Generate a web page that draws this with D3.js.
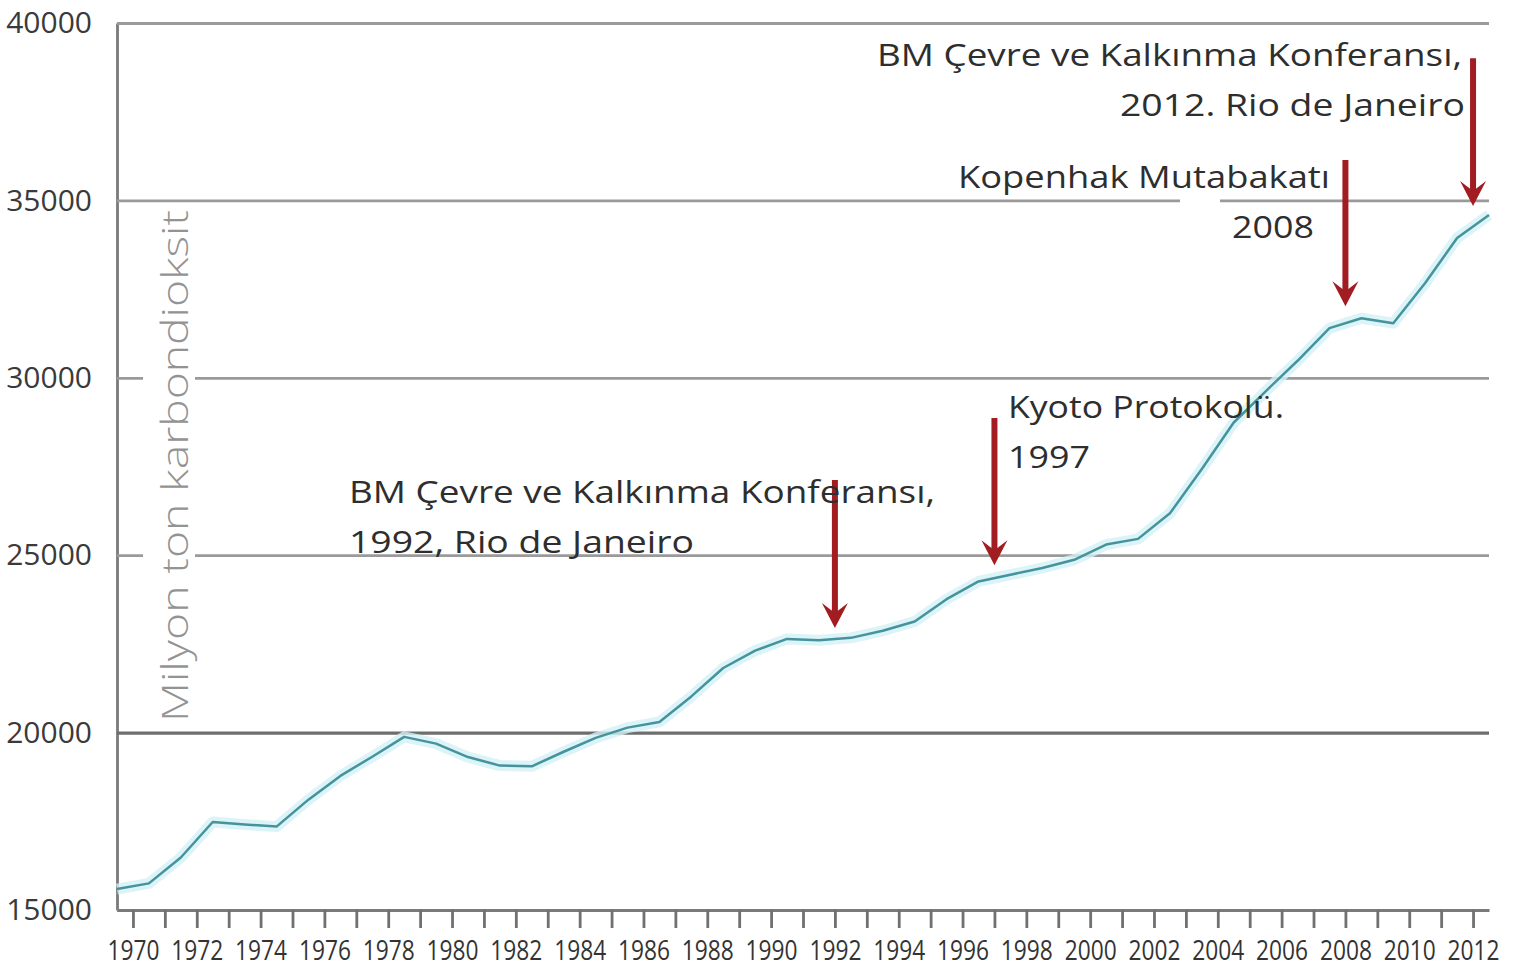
<!DOCTYPE html>
<html>
<head>
<meta charset="utf-8">
<script src="https://cdn.jsdelivr.net/npm/d3@7"></script>
<style>
  html, body { margin: 0; padding: 0; background: #fff; }
  svg { display: block; }
</style>
</head>
<body>
<svg id="chart" width="1528" height="971"></svg>
<script>
// Years of the series (one point per year)
const years = d3.range(1970, 2014);

// Emissions in million tonnes of CO2
const emissions = [
  15590, 15750, 16480, 17480, 17410, 17350, 18110, 18780, 19320, 19880,
  19690, 19310, 19070, 19050, 19460, 19850, 20140, 20300, 21020, 21820,
  22310, 22640, 22600, 22670, 22870, 23130, 23760, 24260, 24450, 24640,
  24870, 25300, 25460, 26180, 27430, 28740, 29620, 30480, 31400, 31680,
  31540, 32670, 33940, 34590
];

// Axis ticks
const tickYears = d3.range(1970, 2013);
const yTicks = [15000, 20000, 25000, 30000, 35000, 40000];
const yTitle = "Milyon ton karbondioksit";

// Events marked with an arrow: year, arrow start and arrow tip (same unit as the series)
const events = [1992, 1997, 2008, 2012];
const arrowTop = [27120, 28870, 36140, 39010];
const arrowTip = [22950, 24720, 32020, 34840];
const eventNotes = [
  ["BM Çevre ve Kalkınma Konferansı,", "1992, Rio de Janeiro"],
  ["Kyoto Protokolü.", "1997"],
  ["Kopenhak Mutabakatı", "2008"],
  ["BM Çevre ve Kalkınma Konferansı,", "2012. Rio de Janeiro"]
];

// Where the notes sit on the page (layout only)
const noteLayout = [
  { x: [349, 349], y: 503, w: [586, 345] },
  { x: [1008, 1008], y: 418, w: [276, 82] },
  { x: [958, 1232], y: 188, w: [372, 82] },
  { x: [877, 1120], y: 66, w: [585, 345] }
];

var svg = d3.select("#chart");
var plotLeft = 117, plotRight = 1489, plotTop = 23, plotBottom = 910;

// Series points sit on year boundaries, axis ticks in the middle of each year
var x = d3.scaleLinear().domain([1970, 2013]).range([plotLeft, plotRight]);
var xAxisScale = d3.scaleLinear().domain([1969.5, 2012.5]).range([plotLeft, plotRight]);
var y = d3.scaleLinear().domain([15000, 40000]).range([plotBottom, plotTop]);

svg.append("rect").attr("width", 1528).attr("height", 971).attr("fill", "#fff");

// Horizontal grid + y labels
var gy = svg.append("g")
    .attr("transform", `translate(${plotLeft},0)`)
    .call(d3.axisLeft(y).tickValues(yTicks).tickSize(-(plotRight - plotLeft)).tickSizeOuter(0)
        .tickPadding(25).tickFormat(d3.format("d")));

gy.select(".domain").attr("stroke", "#7a7a7a").attr("stroke-width", 2.8);
gy.selectAll(".tick line")
    .attr("stroke", d => d === 20000 ? "#6e6e6e" : "#9a9a9a")
    .attr("stroke-width", d => d === 20000 ? 3.4 : 2.8);
gy.selectAll(".tick text")
    .attr("fill", "#3a3a3a")
    .style("font-family", "'Open Sans', sans-serif")
    .style("font-size", "30px");

// little white gap in the 35000 line next to the 2008 note
svg.append("rect")
    .attr("x", 1180).attr("y", y(35000) - 6)
    .attr("width", 40).attr("height", 12)
    .attr("fill", "#fff");

// Y title, on a white band that hides the grid behind it
svg.append("rect")
    .attr("x", 143).attr("y", 206)
    .attr("width", 52).attr("height", 518)
    .attr("fill", "#fff");

svg.append("text")
    .attr("transform", "translate(188,466) rotate(-90)")
    .attr("text-anchor", "middle")
    .attr("textLength", 512)
    .attr("lengthAdjust", "spacingAndGlyphs")
    .attr("fill", "#939393")
    .style("font-family", "'Open Sans', sans-serif")
    .style("font-weight", 300)
    .style("font-size", "37px")
    .text(yTitle);

// Emission line with its light halo
var line = d3.line()
    .x((d, i) => x(years[i]))
    .y(d => y(d));

svg.append("path")
    .datum(emissions)
    .attr("d", line)
    .attr("fill", "none")
    .attr("stroke", "#d3f1f6")
    .attr("stroke-opacity", 0.8)
    .attr("stroke-width", 11)
    .attr("stroke-linejoin", "round");

svg.append("path")
    .datum(emissions)
    .attr("d", line)
    .attr("fill", "none")
    .attr("stroke", "#45939c")
    .attr("stroke-width", 2.5)
    .attr("stroke-linejoin", "round");

// X axis
var gx = svg.append("g")
    .attr("transform", `translate(0,${plotBottom})`)
    .call(d3.axisBottom(xAxisScale).tickValues(tickYears).tickSize(18).tickSizeOuter(0)
        .tickPadding(13).tickFormat(d => d % 2 === 0 ? d : ""));

gx.select(".domain").attr("stroke", "#7a7a7a").attr("stroke-width", 2.8);
gx.selectAll(".tick line").attr("stroke", "#707070").attr("stroke-width", 2.8);
gx.selectAll(".tick text")
    .attr("fill", "#333")
    .style("font-family", "'Open Sans', sans-serif")
    .style("font-size", "27px")
    .filter(d => d % 2 === 0)
    .attr("textLength", 52)
    .attr("lengthAdjust", "spacingAndGlyphs");

// Arrows for the events
var arrowColor = "#a11d22";
var ga = svg.append("g");
events.forEach(function (yr, i) {
    var xa = xAxisScale(yr);
    var y1 = y(arrowTop[i]);
    var y2 = y(arrowTip[i]);
    ga.append("line")
        .attr("x1", xa).attr("x2", xa)
        .attr("y1", y1).attr("y2", y2 - 14)
        .attr("stroke", arrowColor)
        .attr("stroke-width", 6);
    ga.append("path")
        .attr("d", `M${xa - 13},${y2 - 25} L${xa},${y2} L${xa + 13},${y2 - 25} L${xa},${y2 - 15} Z`)
        .attr("fill", arrowColor);
});

// Notes
var gn = svg.append("g")
    .attr("fill", "#2e2e2e")
    .style("font-family", "'Open Sans', sans-serif")
    .style("font-size", "31px");

eventNotes.forEach(function (lines, i) {
    var lay = noteLayout[i];
    lines.forEach(function (t, j) {
        gn.append("text")
            .attr("x", lay.x[j])
            .attr("y", lay.y + j * 50)
            .attr("textLength", lay.w[j])
            .attr("lengthAdjust", "spacingAndGlyphs")
            .text(t);
    });
});
</script>
</body>
</html>
